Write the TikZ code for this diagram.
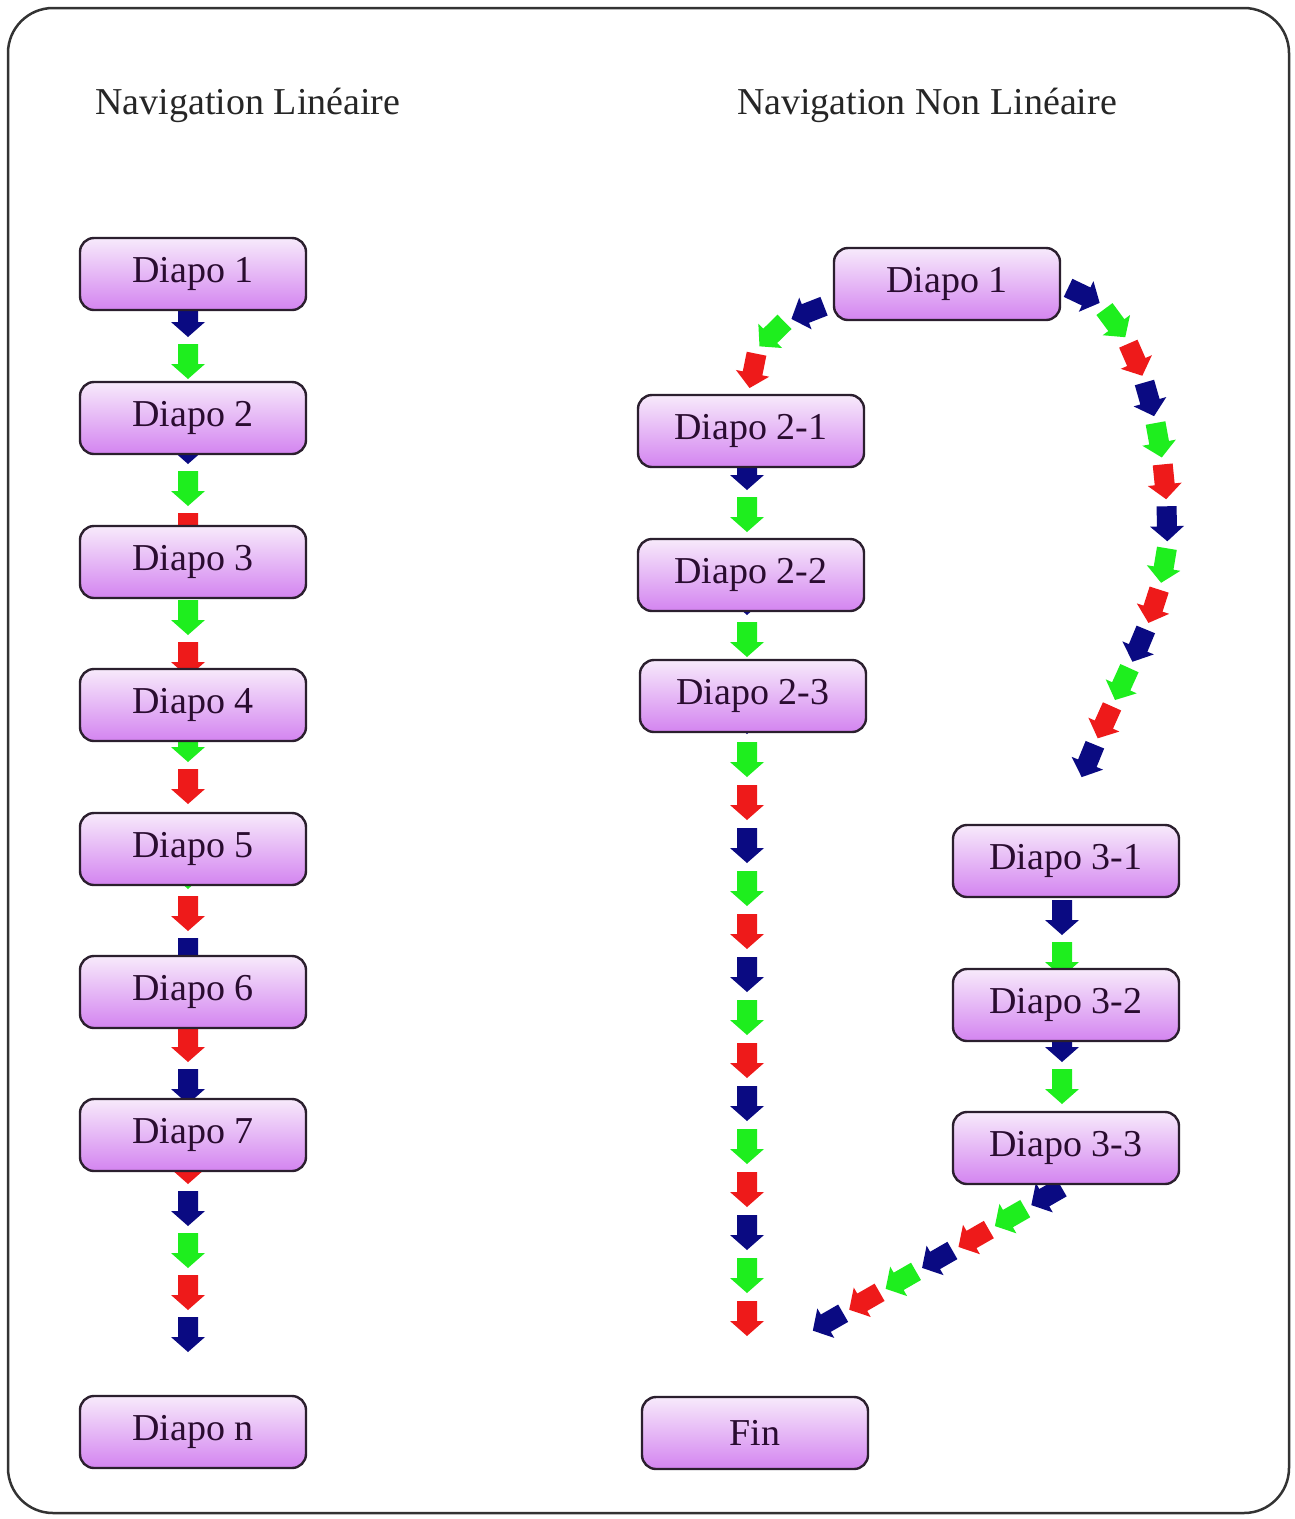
\documentclass[tikz,border=0pt]{standalone}
\usepackage{fontspec}
\setmainfont{Liberation Serif}
\usetikzlibrary{decorations.markings}
\pgfdeclarelayer{background}
\pgfsetlayers{background,main}

\definecolor{diapohaut}{HTML}{F7EAFB}
\definecolor{diapobas}{HTML}{D384F0}
\definecolor{diapobord}{HTML}{2B1F2E}
\definecolor{diapotexte}{HTML}{2A0C30}
\definecolor{flech0}{HTML}{0A0A82}
\definecolor{flech1}{HTML}{1EEE1E}
\definecolor{flech2}{HTML}{EE1A1A}

\newcount\flechidx
\tikzset{
  diapo/.style={draw=diapobord, line width=2.4pt, rounded corners=14pt,
    minimum width=226pt, minimum height=72pt,
    top color=diapohaut, bottom color=diapobas, text=diapotexte,
    font=\fontsize{38}{42}\selectfont},
  titre/.style={text=black!85, font=\fontsize{38}{42}\selectfont},
  fleches/.style n args={4}{decorate,
    /utils/exec={\global\flechidx=#1\relax},
    decoration={markings,
      mark=between positions #2pt and #3pt step #4pt with {
        \pgfmathtruncatemacro\flechcoul{mod(\the\flechidx,3)}
        \fill[fill=flech\flechcoul] (-17,-10) -- (3,-10) -- (3,-17) -- (18,0)
          -- (3,17) -- (3,10) -- (-17,10) -- cycle;
        \global\advance\flechidx by 1\relax}}}
}

\begin{document}
\begin{tikzpicture}[x=1pt,y=-1pt]
    \def\colL{193}
    \def\colA{751}
    \def\colB{1066}
    \useasboundingbox (0,0) rectangle (1295,1519);

    % cadre
    \draw[line width=2.5pt, draw=black!80, rounded corners=45pt] (8,8) rectangle (1289,1513);

    % titres
    \node[titre] (titreL) at (248,105) {Navigation Linéaire};
    \node[titre] (titreNL) at (927,105) {Navigation Non Linéaire};

    % navigation lineaire
    \node[diapo] (l1) at (\colL,274) {Diapo 1};
    \node[diapo] (l2) at (\colL,418) {Diapo 2};
    \node[diapo] (l3) at (\colL,562) {Diapo 3};
    \node[diapo] (l4) at (\colL,705) {Diapo 4};
    \node[diapo] (l5) at (\colL,849) {Diapo 5};
    \node[diapo] (l6) at (\colL,992) {Diapo 6};
    \node[diapo] (l7) at (\colL,1135) {Diapo 7};
    \node[diapo] (ln) at (\colL,1432) {Diapo n};

    % navigation non lineaire
    \node[diapo] (r1) at (947,284) {Diapo 1};
    \node[diapo] (r21) at (\colA,431) {Diapo 2-1};
    \node[diapo] (r22) at (\colA,575) {Diapo 2-2};
    \node[diapo] (r23) at (\colA+2,696) {Diapo 2-3};
    \node[diapo] (fin) at (\colA+4,1433) {Fin};
    \node[diapo] (r31) at (\colB,861) {Diapo 3-1};
    \node[diapo] (r32) at (\colB,1005) {Diapo 3-2};
    \node[diapo] (r33) at (\colB,1148) {Diapo 3-3};
    \coordinate (finentree) at (800,1338);

    \begin{pgfonlayer}{background}
        % fleches lineaires
        \path[fleches={0}{45}{100}{42}] ([xshift=-5pt]l1.center) -- ([xshift=-5pt]l2.center);
        \path[fleches={0}{28}{120}{42}] ([xshift=-5pt]l2.center) -- ([xshift=-5pt]l3.center);
        \path[fleches={1}{55}{100}{42}] ([xshift=-5pt]l3.center) -- ([xshift=-5pt]l4.center);
        \path[fleches={1}{39}{90}{42}] ([xshift=-5pt]l4.center) -- ([xshift=-5pt]l5.center);
        \path[fleches={1}{22}{110}{42}] ([xshift=-5pt]l5.center) -- ([xshift=-5pt]l6.center);
        \path[fleches={2}{52}{100}{42}] ([xshift=-5pt]l6.center) -- ([xshift=-5pt]l7.center);
        \path[fleches={2}{31}{200}{42}] ([xshift=-5pt]l7.center) -- ([xshift=-5pt]ln.center);

        % branche 2
        \path[fleches={0}{26}{120}{42}] ([yshift=-20pt]r1.west) .. controls +(-45,14) and +(0,-61) .. (r21.north);
        \path[fleches={0}{41}{90}{42}] ([xshift=-4pt]r21.center) -- ([xshift=-4pt]r22.center);
        \path[fleches={0}{22}{70}{42}] ([xshift=-4pt]r22.center) -- ([xshift=-6pt]r23.center);
        \path[fleches={0}{20}{630}{43}] ([xshift=-6pt]r23.center) -- ([xshift=-8pt]fin.center);

        % branche 3
        \path[fleches={0}{23}{540}{42}] ([yshift=-6pt]r1.east) .. controls +(62,0) and +(-2,-122) .. (1167,527)
            .. controls +(2,93) and +(34,-116) .. (r31.north);
        \path[fleches={0}{56}{100}{42}] ([xshift=-4pt]r31.center) -- ([xshift=-4pt]r32.center);
        \path[fleches={0}{39}{90}{42}] ([xshift=-4pt]r32.center) -- ([xshift=-4pt]r33.center);
        \path[fleches={0}{22}{280}{42}] (r33.south) -- (finentree);
    \end{pgfonlayer}
\end{tikzpicture}
\end{document}
